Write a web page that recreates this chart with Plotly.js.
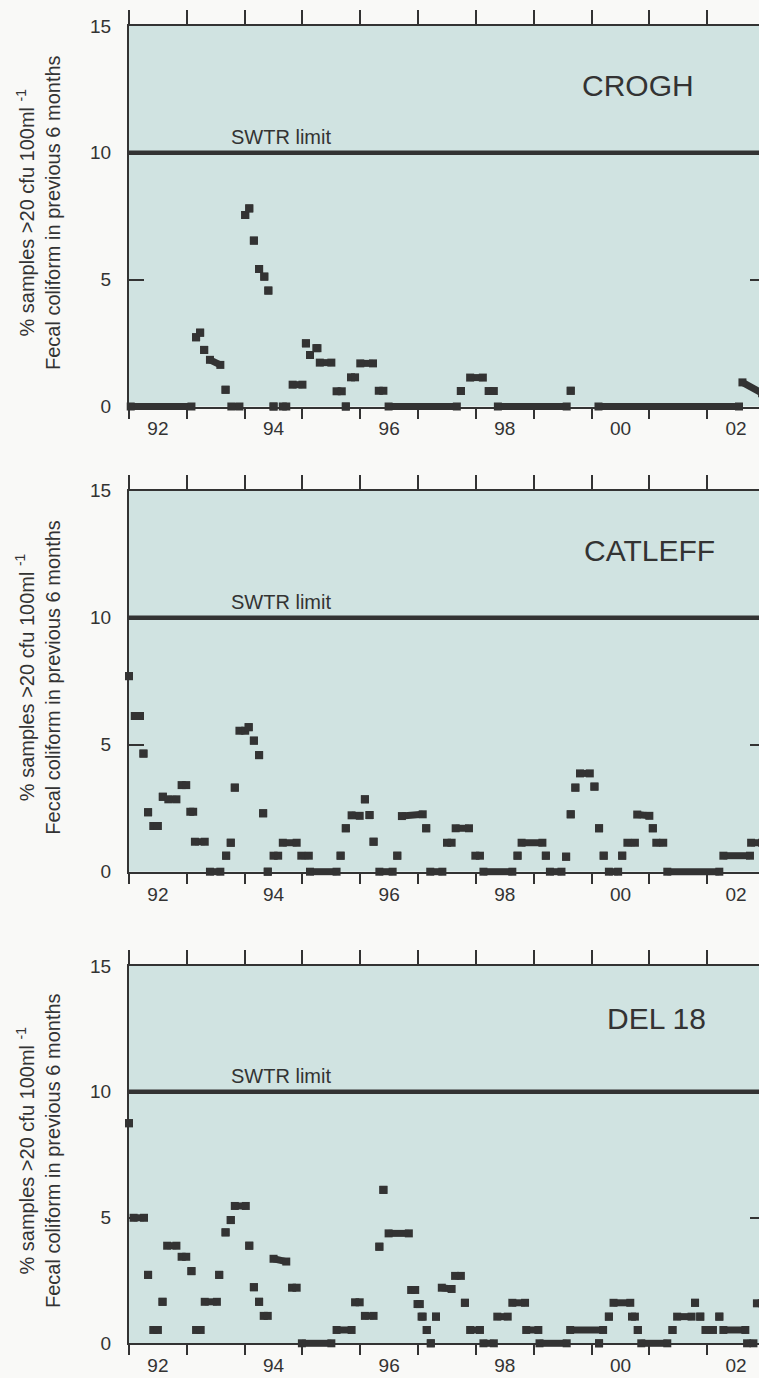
<!DOCTYPE html>
<html><head><meta charset="utf-8">
<script src="https://cdn.plot.ly/plotly-3.0.1.min.js"></script>
<style>
html,body{margin:0;padding:0;background:#f9f9f7;overflow:hidden;width:759px;height:1378px}
#chart{width:780px;height:1378px}
</style>
</head><body><div id="chart"></div>
<script>
// ---------- data ----------
const stations = ['CROGH', 'CATLEFF', 'DEL 18'];
const yearTicks = [1992,1993,1994,1995,1996,1997,1998,1999,2000,2001,2002,2003];
const labelYears = [1992.5,1994.5,1996.5,1998.5,2000.5,2002.5];
const labelText = ['92','94','96','98','00','02'];
const yTicks = [0,5,10,15];
const swtrLimit = 10;
const swtrLabel = 'SWTR limit';
const yTitle = '% samples &gt;20 cfu 100ml <sup>-1</sup><br>Fecal coliform in previous 6 months';

// runs of consecutive samples: start year, end year, value at start, value at end
const croghStart = [1992.03,1993.16,1993.23,1993.30,1993.40,1993.67,1993.77,1994.01,1994.08,1994.16,1994.25,1994.34,1994.41,1994.50,1994.66,1994.83,1995.06,1995.13,1995.24,1995.30,1995.59,1995.75,1995.84,1996.00,1996.32,1996.49,1997.74,1997.90,1998.22,1998.38,1999.64,2000.12,2002.61];
const croghEnd   = [1993.08,1993.16,1993.23,1993.30,1993.58,1993.67,1993.91,1994.01,1994.08,1994.16,1994.25,1994.34,1994.41,1994.50,1994.72,1995.00,1995.06,1995.13,1995.26,1995.50,1995.68,1995.75,1995.91,1996.22,1996.40,1997.67,1997.74,1998.12,1998.31,1999.57,1999.64,2002.55,2002.95];
const croghFrom  = [0,2.73,2.91,2.23,1.84,0.66,0,7.55,7.81,6.54,5.42,5.12,4.57,0,0,0.86,2.49,2.03,2.30,1.73,0.60,0,1.15,1.70,0.62,0,0.61,1.14,0.61,0,0.62,0,0.95];
const croghTo    = [0,2.73,2.91,2.23,1.64,0.66,0,7.55,7.81,6.54,5.42,5.12,4.57,0,0,0.86,2.49,2.03,2.30,1.73,0.60,0,1.15,1.70,0.62,0,0.61,1.14,0.61,0,0.62,0,0.52];

const catleffStart = [1992.00,1992.10,1992.25,1992.33,1992.42,1992.585,1992.68,1992.91,1993.06,1993.14,1993.40,1993.68,1993.76,1993.83,1993.91,1994.07,1994.16,1994.25,1994.32,1994.40,1994.50,1994.66,1994.98,1995.13,1995.66,1995.75,1995.85,1996.08,1996.16,1996.23,1996.33,1996.64,1996.72,1997.14,1997.21,1997.50,1997.65,1997.99,1998.13,1998.72,1998.79,1999.21,1999.28,1999.56,1999.64,1999.72,1999.80,2000.05,2000.13,2000.21,2000.30,2000.53,2000.62,2000.79,2001.06,2001.12,2001.31,2002.28,2002.76];
const catleffEnd   = [1992.00,1992.19,1992.25,1992.33,1992.50,1992.585,1992.82,1992.99,1993.11,1993.31,1993.58,1993.68,1993.76,1993.83,1994.01,1994.07,1994.16,1994.25,1994.32,1994.40,1994.58,1994.90,1995.11,1995.59,1995.66,1995.75,1995.99,1996.08,1996.16,1996.23,1996.56,1996.64,1997.08,1997.14,1997.42,1997.58,1997.88,1998.07,1998.63,1998.72,1999.15,1999.21,1999.48,1999.56,1999.64,1999.72,1999.97,2000.05,2000.13,2000.21,2000.46,2000.53,2000.75,2001.00,2001.06,2001.24,2002.21,2002.74,2002.95];
const catleffFrom  = [7.70,6.13,4.65,2.34,1.80,2.95,2.85,3.41,2.36,1.18,0,0.63,1.14,3.31,5.55,5.69,5.16,4.59,2.30,0,0.63,1.14,0.63,0,0.63,1.71,2.22,2.85,2.23,1.18,0,0.63,2.19,1.71,0,1.14,1.71,0.63,0,0.63,1.14,0.63,0,0.59,2.26,3.31,3.87,3.35,1.71,0.63,0,0.63,1.14,2.25,1.71,1.14,0,0.63,1.14];
const catleffTo    = [7.70,6.13,4.65,2.34,1.80,2.95,2.85,3.41,2.36,1.18,0,0.63,1.14,3.31,5.55,5.69,5.16,4.59,2.30,0,0.63,1.14,0.63,0,0.63,1.71,2.20,2.85,2.23,1.18,0,0.63,2.26,1.71,0,1.14,1.71,0.63,0,0.63,1.14,0.63,0,0.59,2.26,3.31,3.87,3.35,1.71,0.63,0,0.63,1.14,2.20,1.71,1.14,0,0.63,1.14];

const del18Start = [1992.00,1992.08,1992.33,1992.42,1992.58,1992.66,1992.91,1993.08,1993.16,1993.31,1993.56,1993.67,1993.76,1993.83,1994.08,1994.16,1994.25,1994.33,1994.50,1994.82,1994.99,1995.59,1995.91,1996.08,1996.33,1996.40,1996.49,1996.88,1996.99,1997.06,1997.15,1997.22,1997.31,1997.41,1997.64,1997.81,1997.90,1998.13,1998.37,1998.63,1998.87,1999.10,1999.63,2000.13,2000.30,2000.38,2000.70,2000.80,2000.86,2001.40,2001.48,2001.79,2001.88,2001.97,2002.21,2002.28,2002.69,2002.86];
const del18End   = [1992.00,1992.26,1992.33,1992.50,1992.58,1992.82,1992.99,1993.08,1993.24,1993.52,1993.56,1993.67,1993.76,1994.02,1994.08,1994.16,1994.25,1994.40,1994.72,1994.90,1995.50,1995.85,1995.99,1996.23,1996.33,1996.40,1996.84,1996.95,1997.03,1997.08,1997.15,1997.22,1997.31,1997.58,1997.74,1997.81,1998.07,1998.31,1998.55,1998.85,1999.08,1999.57,2000.20,2000.13,2000.30,2000.67,2000.75,2000.80,2001.31,2001.40,2001.73,2001.79,2001.88,2002.10,2002.21,2002.66,2002.80,2002.95];
const del18From  = [8.75,4.99,2.72,0.53,1.65,3.88,3.44,2.87,0.53,1.65,2.72,4.41,4.90,5.46,3.88,2.23,1.65,1.09,3.36,2.21,0,0.53,1.63,1.09,3.84,6.10,4.37,2.12,1.56,1.06,0.53,0,1.06,2.21,2.68,1.61,0.53,0,1.06,1.61,0.53,0,0.53,0,1.06,1.61,1.06,0.53,0,0.53,1.06,1.61,1.06,0.53,1.06,0.53,0,1.59];
const del18To    = [8.75,4.99,2.72,0.53,1.65,3.88,3.44,2.87,0.53,1.65,2.72,4.41,4.90,5.46,3.88,2.23,1.65,1.09,3.25,2.21,0,0.53,1.63,1.09,3.84,6.10,4.37,2.12,1.56,1.06,0.53,0,1.06,2.16,2.68,1.61,0.53,0,1.06,1.61,0.53,0,0.53,0,1.06,1.61,1.06,0.53,0,0.53,1.06,1.61,1.06,0.53,1.06,0.53,0,1.59];

const series = [
  {start: croghStart, end: croghEnd, from: croghFrom, to: croghTo},
  {start: catleffStart, end: catleffEnd, from: catleffFrom, to: catleffTo},
  {start: del18Start, end: del18End, from: del18From, to: del18To}
];

// ---------- styling / layout geometry ----------
const W = 780, H = 1378, ML = 129, MR = 15;
const plotW = W - ML - MR;
const panelTopPx = [26, 490.7, 966];
const panelBotPx = [406.5, 871.7, 1343.3];
const titleCenterPx = [213, 677.7, 1151];
const stationPos = [[2000.81, 12.66], [2001.01, 12.66], [2001.12, 12.9]];
const FONT = 'Liberation Sans, Arial, Helvetica, sans-serif';
const INK = '#333333';
const xRange = [1992, 2003];

const traces = [];
const layout = {
  width: W, height: H,
  margin: {l: ML, r: MR, t: 0, b: 0, pad: 0},
  paper_bgcolor: '#f9f9f7',
  plot_bgcolor: '#d0e3e1',
  showlegend: false,
  font: {family: FONT, color: INK, size: 19},
  shapes: [], annotations: []
};

series.forEach((s, i) => {
  const n = i + 1;
  const xs = '' + (n === 1 ? '' : n);
  const xid = 'x' + xs, yid = 'y' + xs;
  const x = [], y = [];
  for (let k = 0; k < s.start.length; k++) {
    x.push(s.start[k], s.end[k], null);
    y.push(s.from[k], s.to[k], null);
  }
  traces.push({
    type: 'scatter', mode: 'lines+markers', x: x, y: y,
    xaxis: xid, yaxis: yid, connectgaps: false, cliponaxis: false,
    line: {color: INK, width: 7},
    marker: {symbol: 'square', size: 8, color: INK, line: {width: 0}},
    hoverinfo: 'skip'
  });
  const dom = [1 - panelBotPx[i] / H, 1 - panelTopPx[i] / H];
  const lid = 3 + n, tid = 6 + n;
  // empty traces so the label axis and the top axis get drawn
  traces.push({type: 'scatter', mode: 'markers', x: [], y: [], xaxis: 'x' + lid, yaxis: yid, hoverinfo: 'skip'});
  traces.push({type: 'scatter', mode: 'markers', x: [], y: [], xaxis: 'x' + tid, yaxis: yid, hoverinfo: 'skip'});
  // main bottom axis: yearly ticks
  layout['xaxis' + xs] = {
    domain: [0, 1], range: xRange, anchor: yid,
    tickmode: 'array', tickvals: yearTicks, showticklabels: false,
    ticks: 'outside', ticklen: 10, tickwidth: 2, tickcolor: INK,
    showline: true, linewidth: 2, linecolor: INK,
    showgrid: false, zeroline: false, fixedrange: true
  };
  // label axis (labels centred in the year)
  layout['xaxis' + lid] = {
    overlaying: xid, anchor: yid, side: 'bottom', range: xRange,
    tickmode: 'array', tickvals: labelYears, ticktext: labelText,
    ticks: 'outside', ticklen: 5, tickcolor: 'rgba(0,0,0,0)',
    showline: false, showgrid: false, zeroline: false, fixedrange: true,
    tickfont: {family: FONT, size: 19, color: INK}
  };
  // top axis
  layout['xaxis' + tid] = {
    overlaying: xid, anchor: yid, side: 'top', range: xRange,
    tickmode: 'array', tickvals: yearTicks, showticklabels: false,
    ticks: 'outside', ticklen: 14, tickwidth: 2, tickcolor: INK,
    showline: true, linewidth: 2, linecolor: INK,
    showgrid: false, zeroline: false, fixedrange: true
  };
  layout['yaxis' + xs] = {
    domain: dom, range: [0, 15], anchor: xid,
    tickmode: 'array', tickvals: yTicks,
    ticks: 'inside', ticklen: 15, tickwidth: 2, tickcolor: INK,
    showline: true, linewidth: 2, linecolor: INK, mirror: 'ticks',
    showgrid: false, zeroline: false, fixedrange: true,
    ticklabelstandoff: 12,
    tickfont: {family: FONT, size: 19, color: INK}
  };
  layout.shapes.push({
    type: 'line', xref: xid + ' domain', yref: yid,
    x0: 0, x1: 1, y0: swtrLimit, y1: swtrLimit,
    line: {color: INK, width: 4.5}, layer: 'above'
  });
  layout.annotations.push({
    xref: xid, yref: yid, x: 1994.63, y: swtrLimit, yanchor: 'bottom', yshift: 3,
    text: swtrLabel, showarrow: false, font: {family: FONT, size: 20, color: INK}
  });
  layout.annotations.push({
    xref: xid, yref: yid, x: stationPos[i][0], y: stationPos[i][1],
    xanchor: 'center', yanchor: 'middle',
    text: stations[i], showarrow: false, font: {family: FONT, size: 30, color: INK}
  });
  layout.annotations.push({
    xref: 'paper', yref: 'paper', x: (38 - ML) / plotW, y: 1 - titleCenterPx[i] / H,
    xanchor: 'center', yanchor: 'middle', textangle: -90,
    text: yTitle, showarrow: false, font: {family: FONT, size: 20, color: INK}
  });
});

Plotly.newPlot('chart', traces, layout, {staticPlot: true, displayModeBar: false}).then(gd => {
  // let the sample runs draw over the axis lines like the original
  gd.querySelectorAll('.scatterlayer, .scatterlayer *').forEach(el => el.removeAttribute('clip-path'));
});
</script>
</body></html>
